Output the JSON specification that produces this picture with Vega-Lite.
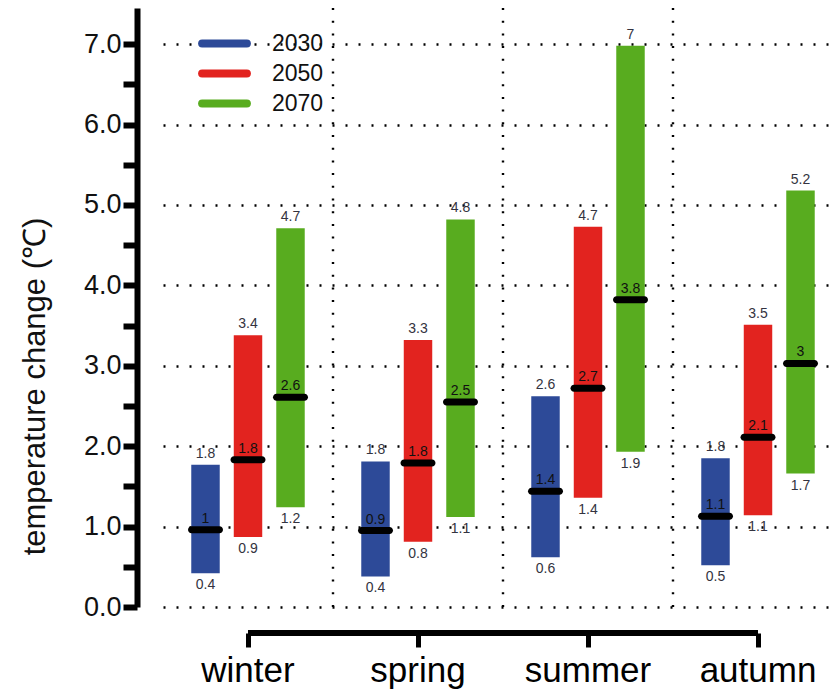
{
  "$schema": "https://vega.github.io/schema/vega-lite/v6.json",
  "width": 668,
  "height": 599,
  "autosize": {"type": "none"},
  "padding": {"left": 163, "top": 8, "right": 0, "bottom": 84},
  "config": {
    "font": "Liberation Sans",
    "view": {"stroke": null},
    "axis": {"labelColor": "#111", "titleColor": "#111"}
  },
  "data": {
    "values": [
      {"season": "winter", "year": "2030", "low": 0.42, "high": 1.77, "med": 0.96, "lowL": "0.4", "highL": "1.8", "medL": "1"},
      {"season": "winter", "year": "2050", "low": 0.87, "high": 3.38, "med": 1.83, "lowL": "0.9", "highL": "3.4", "medL": "1.8"},
      {"season": "winter", "year": "2070", "low": 1.24, "high": 4.71, "med": 2.61, "lowL": "1.2", "highL": "4.7", "medL": "2.6"},
      {"season": "spring", "year": "2030", "low": 0.38, "high": 1.81, "med": 0.95, "lowL": "0.4", "highL": "1.8", "medL": "0.9"},
      {"season": "spring", "year": "2050", "low": 0.81, "high": 3.32, "med": 1.79, "lowL": "0.8", "highL": "3.3", "medL": "1.8"},
      {"season": "spring", "year": "2070", "low": 1.12, "high": 4.82, "med": 2.55, "lowL": "1.1", "highL": "4.8", "medL": "2.5"},
      {"season": "summer", "year": "2030", "low": 0.62, "high": 2.62, "med": 1.44, "lowL": "0.6", "highL": "2.6", "medL": "1.4"},
      {"season": "summer", "year": "2050", "low": 1.36, "high": 4.73, "med": 2.72, "lowL": "1.4", "highL": "4.7", "medL": "2.7"},
      {"season": "summer", "year": "2070", "low": 1.93, "high": 6.98, "med": 3.82, "lowL": "1.9", "highL": "7", "medL": "3.8"},
      {"season": "autumn", "year": "2030", "low": 0.52, "high": 1.85, "med": 1.13, "lowL": "0.5", "highL": "1.8", "medL": "1.1"},
      {"season": "autumn", "year": "2050", "low": 1.14, "high": 3.51, "med": 2.11, "lowL": "1.1", "highL": "3.5", "medL": "2.1"},
      {"season": "autumn", "year": "2070", "low": 1.66, "high": 5.18, "med": 3.03, "lowL": "1.7", "highL": "5.2", "medL": "3"}
    ]
  },
  "encoding": {
    "x": {
      "field": "season", "type": "nominal",
      "scale": {"domain": ["winter", "spring", "summer", "autumn"], "range": [0, 680], "paddingInner": 0, "paddingOuter": 0},
      "axis": {"offset": 26, "domain": false, "grid": false, "tickSize": 14, "tickWidth": 5, "tickColor": "black", "labelFontSize": 35, "labelPadding": 6, "labelAngle": 0, "labelColor": "black", "title": null}
    },
    "xOffset": {"field": "year", "type": "nominal", "scale": {"paddingInner": 0.33, "paddingOuter": 0.665}}
  },
  "layer": [
    {
      "mark": {"type": "bar"},
      "encoding": {
        "y": {
          "field": "low", "type": "quantitative",
          "scale": {"domain": [0, 7.45], "nice": false, "zero": false},
          "axis": {
            "offset": 26,
            "values": [0, 0.5, 1, 1.5, 2, 2.5, 3, 3.5, 4, 4.5, 5, 5.5, 6, 6.5, 7],
            "labelExpr": "datum.value % 1 === 0 ? format(datum.value, '.1f') : ''",
            "grid": true, "gridColor": "black", "gridDash": [2, 11], "gridWidth": 2.4,
            "gridOpacity": {"condition": {"test": "datum.value % 1 !== 0", "value": 0}, "value": 1},
            "domainColor": "black", "domainWidth": 6,
            "tickColor": "black", "tickWidth": 6, "tickSize": 14,
            "labelFontSize": 27, "labelPadding": 2, "labelColor": "#111",
            "title": "temperature change (℃)", "titleFontSize": 31, "titleFontWeight": "normal", "titlePadding": 32, "titleColor": "#111", "titleY": 378
          }
        },
        "y2": {"field": "high"},
        "fill": {
          "field": "year", "type": "nominal",
          "scale": {"domain": ["2030", "2050", "2070"], "range": ["#2d4a98", "#e2231f", "#58ac1f"]},
          "legend": {
            "orient": "none", "legendX": 50, "legendY": 24, "title": null,
            "symbolType": "M-5.6,0H5.6", "symbolSize": 64, "symbolStrokeWidth": 8,
            "labelFontSize": 23, "labelColor": "#111", "labelOffset": 36, "rowPadding": -3, "padding": 0,
            "encode": {
              "symbols": {
                "update": {
                  "stroke": {"scale": "fill", "field": "value"},
                  "strokeWidth": {"value": 8},
                  "strokeCap": {"value": "round"},
                  "opacity": {"value": 1}
                }
              }
            }
          }
        }
      }
    },
    {
      "data": {"values": [{"s": "spring"}, {"s": "summer"}, {"s": "autumn"}]},
      "mark": {"type": "rule", "color": "black", "strokeWidth": 2.4, "strokeDash": [2, 10.7]},
      "encoding": {
        "x": {"field": "s", "type": "nominal", "bandPosition": 0},
        "xOffset": null
      }
    },
    {
      "data": {"values": [{"from": "winter", "to": "autumn", "base": -0.3234}]},
      "mark": {"type": "rule", "color": "black", "strokeWidth": 6, "clip": false},
      "encoding": {
        "x": {"field": "from", "type": "nominal"},
        "x2": {"field": "to"},
        "xOffset": null,
        "y": {"field": "base", "type": "quantitative"}
      }
    },
    {
      "mark": {"type": "tick", "color": "black", "size": 35, "thickness": 7, "cornerRadius": 3.5, "opacity": 1},
      "encoding": {"y": {"field": "med", "type": "quantitative"}}
    },
    {
      "mark": {"type": "text", "fontSize": 14, "color": "#333340", "dy": -7, "baseline": "alphabetic"},
      "encoding": {"y": {"field": "high", "type": "quantitative"}, "text": {"field": "highL"}}
    },
    {
      "mark": {"type": "text", "fontSize": 14, "color": "#333340", "dy": 16, "baseline": "alphabetic"},
      "encoding": {"y": {"field": "low", "type": "quantitative"}, "text": {"field": "lowL"}}
    },
    {
      "mark": {"type": "text", "fontSize": 14, "color": "#111", "dy": -7, "baseline": "alphabetic"},
      "encoding": {"y": {"field": "med", "type": "quantitative"}, "text": {"field": "medL"}}
    }
  ]
}
